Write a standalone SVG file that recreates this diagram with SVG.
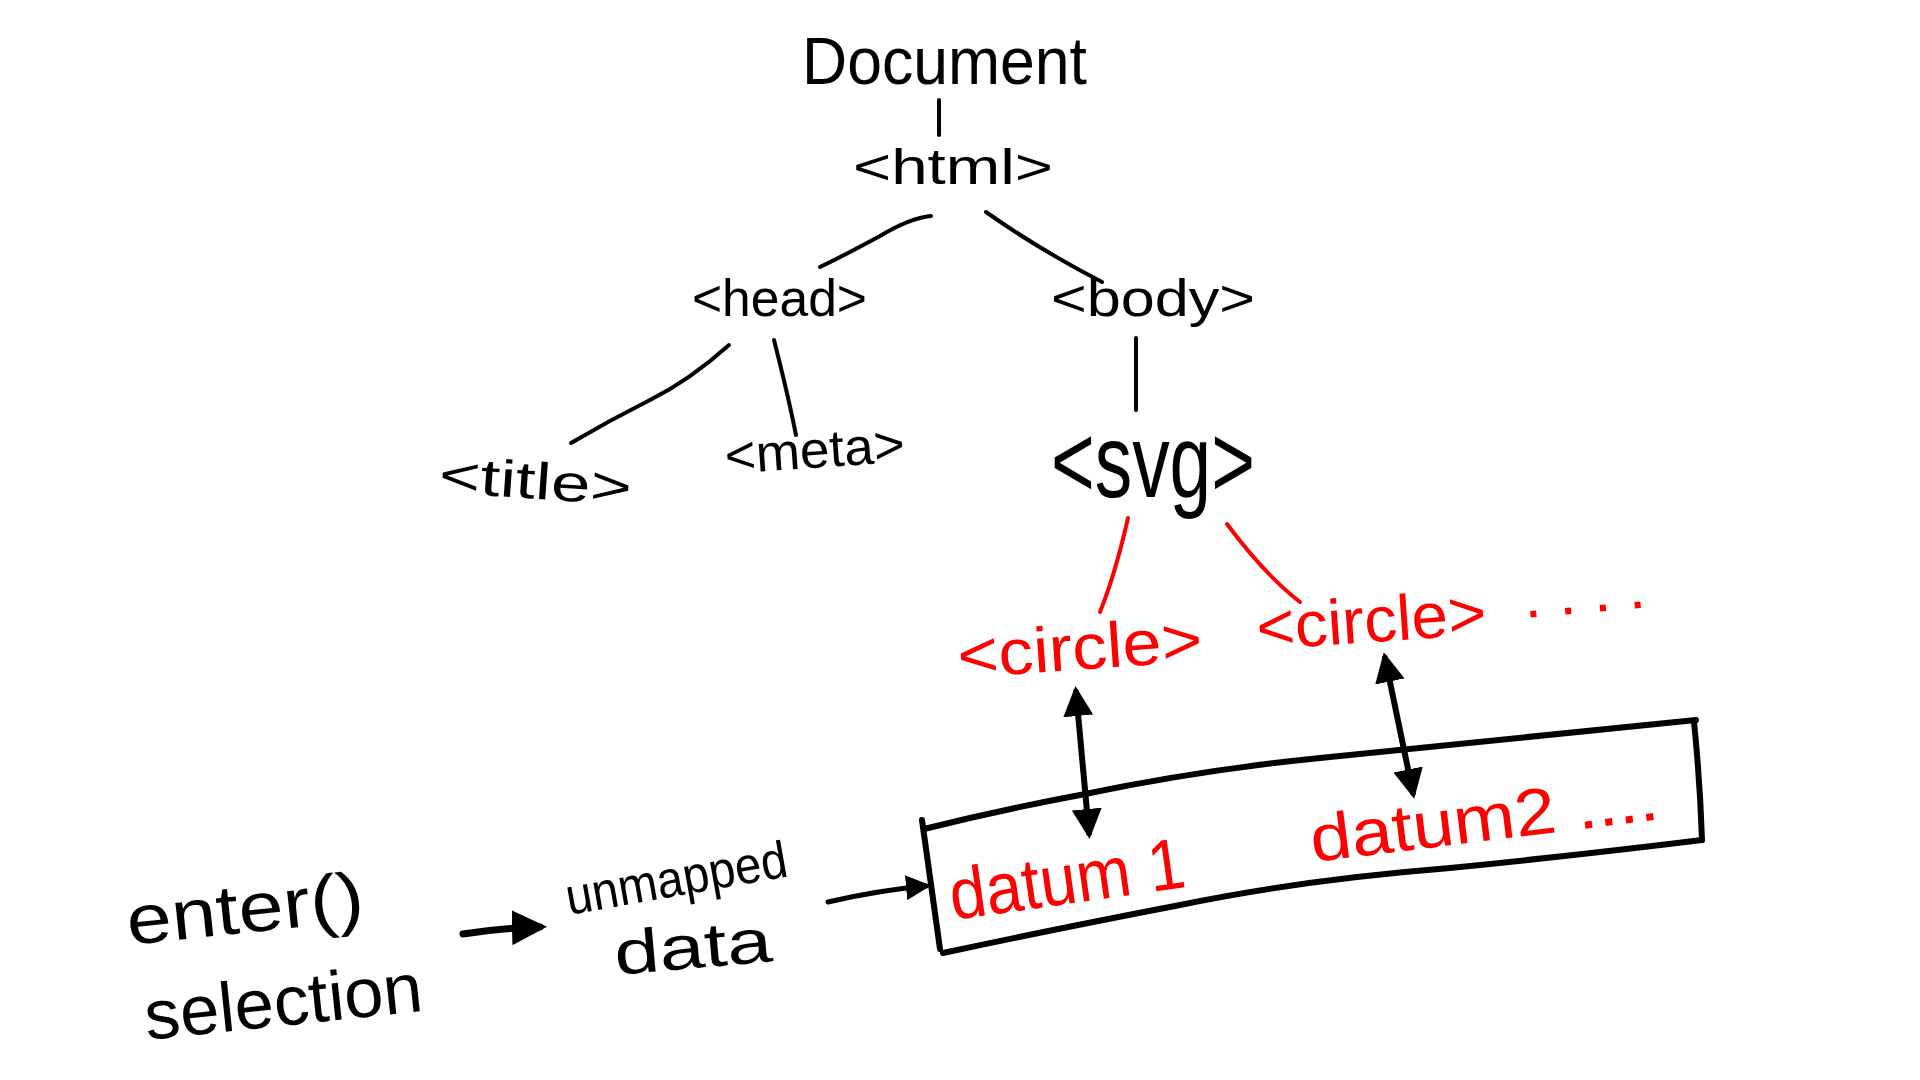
<svg xmlns="http://www.w3.org/2000/svg" width="1920" height="1080" viewBox="0 0 1920 1080">
<style>
.bg{fill:#ffffff}
.t{font-family:"Liberation Sans","DejaVu Sans",sans-serif;fill:#000}
.r{fill:#ff0000}
.ln{fill:none;stroke:#000;stroke-width:4;stroke-linecap:round;stroke-linejoin:round}
.rl{fill:none;stroke:#ff0000;stroke-width:4;stroke-linecap:round}
.box{fill:none;stroke:#000;stroke-width:6;stroke-linecap:round;stroke-linejoin:round}
.ar{fill:none;stroke:#000;stroke-width:6;stroke-linecap:round}
</style>
<defs>
<marker id="ah" viewBox="0 0 10 10" refX="8" refY="5" markerWidth="5" markerHeight="5" orient="auto-start-reverse" markerUnits="strokeWidth">
<path d="M0,0 L10,5 L0,10 z" fill="#000"/>
</marker>
</defs>
<rect class="bg" x="0" y="0" width="1920" height="1080"/>

<g id="connectors">
<path class="ln" d="M939,100 L939,135"/>
<path class="ln" d="M931,216 Q910,218 880,236 Q845,255 820,267"/>
<path class="ln" d="M986,212 Q1040,250 1102,282"/>
<path class="ln" d="M729,345 Q690,380 650,400 Q610,420 571,443"/>
<path class="ln" d="M774,340 Q788,395 796,435"/>
<path class="ln" d="M1136,338 L1136,410"/>
<path class="rl" d="M1128,518 Q1115,575 1100,612"/>
<path class="rl" d="M1227,524 Q1265,575 1300,602"/>
<path class="ar" d="M1076,692 L1089,833" marker-start="url(#ah)" marker-end="url(#ah)"/>
<path class="ar" d="M1385,658 L1413,793" marker-start="url(#ah)" marker-end="url(#ah)"/>
<path class="ar" style="stroke-width:7" d="M463,934 Q500,928 540,927" marker-end="url(#ah)"/>
<path class="ar" style="stroke-width:5" d="M828,902 Q880,890 926,886" marker-end="url(#ah)"/>
</g>

<g id="node-document"><text class="t" x="802" y="84" font-size="66" textLength="285" lengthAdjust="spacingAndGlyphs">Document</text></g>
<g id="node-html"><text class="t" x="853" y="184" font-size="50" textLength="200" lengthAdjust="spacingAndGlyphs">&lt;html&gt;</text></g>
<g id="node-head"><text class="t" x="692" y="316" font-size="52" textLength="175" lengthAdjust="spacingAndGlyphs">&lt;head&gt;</text></g>
<g id="node-body"><text class="t" x="1051" y="316" font-size="52" textLength="204" lengthAdjust="spacingAndGlyphs">&lt;body&gt;</text></g>
<g id="node-title"><text class="t" x="438" y="492" font-size="52" textLength="193" lengthAdjust="spacingAndGlyphs" transform="rotate(4 438 492)">&lt;title&gt;</text></g>
<g id="node-meta"><text class="t" x="726" y="474" font-size="52" textLength="180" lengthAdjust="spacingAndGlyphs" transform="rotate(-4 726 474)">&lt;meta&gt;</text></g>
<g id="node-svg"><text class="t" x="1051" y="497" font-size="104" textLength="204" lengthAdjust="spacingAndGlyphs">&lt;svg&gt;</text></g>
<g id="node-circle1"><text class="t r" x="959" y="678" font-size="64" textLength="245" lengthAdjust="spacingAndGlyphs" transform="rotate(-4 959 678)">&lt;circle&gt;</text></g>
<g id="node-circle2"><text class="t r" x="1258" y="650" font-size="64" textLength="230" lengthAdjust="spacingAndGlyphs" transform="rotate(-4 1258 650)">&lt;circle&gt;</text>
<text class="t r" x="1525" y="618" font-size="60" textLength="122" lengthAdjust="spacingAndGlyphs" transform="rotate(-5 1525 618)">. . . .</text></g>

<g id="node-data-box">
<path class="box" d="M922,820 L940,949"/>
<path class="box" d="M924,829 Q1000,810 1080,795 Q1200,770 1320,758 Q1500,740 1696,720"/>
<path class="box" d="M1694,722 Q1700,780 1702,840"/>
<path class="box" d="M943,953 Q1050,930 1180,905 Q1300,880 1450,868 Q1580,855 1702,840"/>
<text class="t r" x="953" y="920" font-size="72" textLength="237" lengthAdjust="spacingAndGlyphs" transform="rotate(-8 953 920)">datum 1</text>
<text class="t r" x="1313" y="862" font-size="66" textLength="350" lengthAdjust="spacingAndGlyphs" transform="rotate(-7 1313 862)">datum2 ....</text>
</g>

<g id="node-enter"><text class="t" x="129" y="945" font-size="70" textLength="238" lengthAdjust="spacingAndGlyphs" transform="rotate(-6 129 945)">enter()</text>
<text class="t" x="147" y="1040" font-size="70" textLength="279" lengthAdjust="spacingAndGlyphs" transform="rotate(-6 147 1040)">selection</text></g>
<g id="node-unmapped"><text class="t" x="569" y="915" font-size="52" textLength="224" lengthAdjust="spacingAndGlyphs" transform="rotate(-10 569 915)">unmapped</text>
<text class="t" x="616" y="975" font-size="62" textLength="158" lengthAdjust="spacingAndGlyphs" transform="rotate(-5 616 975)">data</text></g>
</svg>
